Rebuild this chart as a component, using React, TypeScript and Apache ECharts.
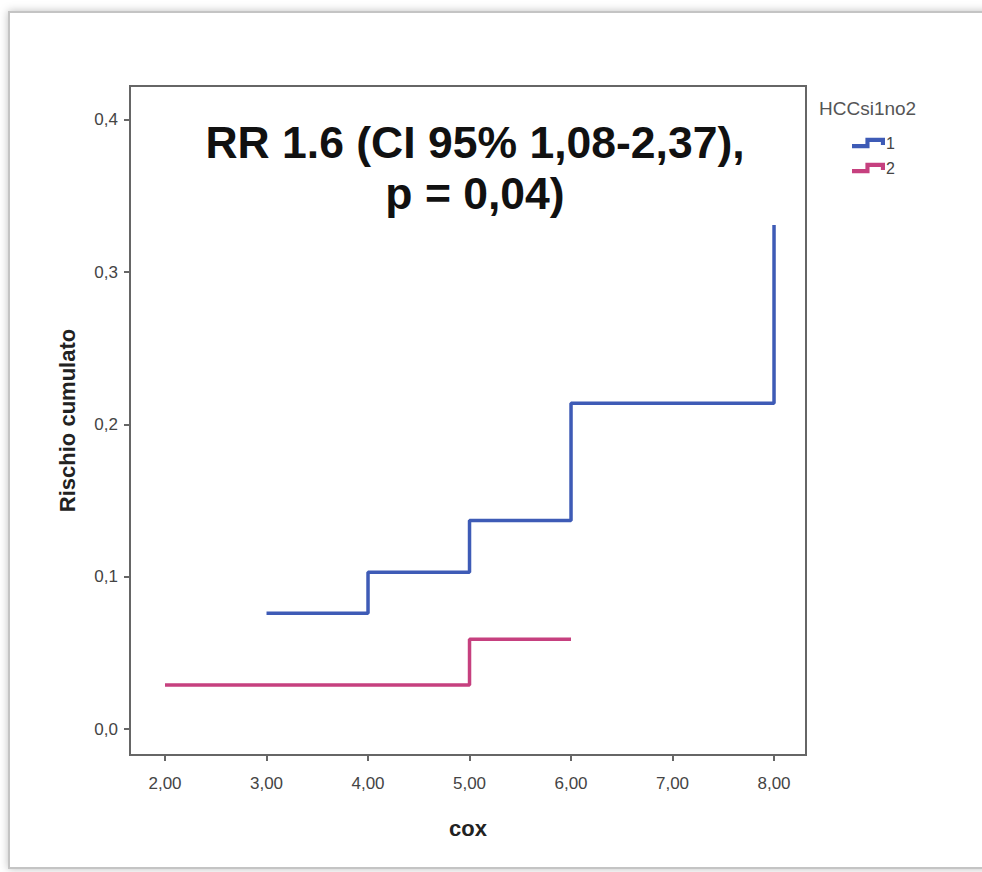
import React, { useEffect, useRef } from "react";
import * as echarts from "echarts";

const blueX = [3, 4, 5, 6, 8];
const blueY = [0.076, 0.103, 0.137, 0.214, 0.331];
const pinkX = [2, 5, 6];
const pinkY = [0.029, 0.059, 0.059];
const xTicks = [2, 3, 4, 5, 6, 7, 8];
const yTicks = [0, 0.1, 0.2, 0.3, 0.4];
const seriesNames = ["1", "2"];
const titleLines = ["RR 1.6 (CI 95% 1,08-2,37),", "p = 0,04)"];
const legendTitle = "HCCsi1no2";
const xName = "cox";
const yName = "Rischio cumulato";

const BLUE = "#3e5bb6";
const PINK = "#c6407f";
const AXIS = "#666";
const FONT = "'Liberation Sans', Arial, sans-serif";
const ICON = "path://M0,6 L13,6 L13,0 L32,0 L32,7 L28,7 L28,4 L17,4 L17,10 L0,10 Z";

export default function App() {
  const ref = useRef<HTMLDivElement>(null);
  useEffect(() => {
    document.body.style.margin = "0";
    const chart = echarts.init(ref.current!, null, { renderer: "svg" });
    const zip = (xs: number[], ys: number[]) => xs.map((x, i) => [x, ys[i]]);
    chart.setOption({
      animation: false,
      backgroundColor: "#fff",
      textStyle: { fontFamily: FONT },
      grid: {
        left: 130,
        top: 86,
        right: 176,
        bottom: 117,
        show: true,
        borderColor: AXIS,
        borderWidth: 2,
        backgroundColor: "transparent",
      },
      xAxis: {
        type: "value",
        min: 1.655,
        max: 8.315,
        name: xName,
        nameLocation: "middle",
        nameGap: 62,
        nameTextStyle: { fontSize: 22, fontWeight: "bold", color: "#222", fontFamily: FONT },
        axisLine: { show: true, onZero: false, lineStyle: { color: AXIS, width: 2 } },
        axisTick: { show: true, length: 6, customValues: xTicks, lineStyle: { color: AXIS, width: 2 } },
        axisLabel: {
          customValues: xTicks,
          margin: 20,
          fontSize: 17,
          color: "#444",
          fontFamily: FONT,
          formatter: (v: number) => v.toFixed(2).replace(".", ","),
        },
        splitLine: { show: false },
      },
      yAxis: {
        type: "value",
        min: -0.017,
        max: 0.4223,
        name: yName,
        nameLocation: "middle",
        nameGap: 52,
        nameRotate: 90,
        nameTextStyle: { fontSize: 22, fontWeight: "bold", color: "#222", fontFamily: FONT },
        axisLine: { show: true, onZero: false, lineStyle: { color: AXIS, width: 2 } },
        axisTick: { show: true, length: 6, customValues: yTicks, lineStyle: { color: AXIS, width: 2 } },
        axisLabel: {
          customValues: yTicks,
          margin: 12,
          fontSize: 17,
          color: "#444",
          fontFamily: FONT,
          formatter: (v: number) => v.toFixed(1).replace(".", ","),
        },
        splitLine: { show: false },
      },
      legend: {
        orient: "vertical",
        left: 852,
        top: 135,
        padding: 0,
        itemWidth: 33,
        itemHeight: 11,
        itemGap: 9,
        icon: ICON,
        textStyle: { fontSize: 16, color: "#444", fontFamily: FONT, padding: [0, 0, 0, -4] },
        data: seriesNames,
      },
      graphic: [
        {
          type: "rect",
          silent: true,
          z: -10,
          shape: { x: 9, y: 12, width: 990, height: 856 },
          style: { fill: "#fff", stroke: "#c4c4c4", lineWidth: 2, shadowBlur: 8, shadowColor: "rgba(0,0,0,0.25)" },
        },
        {
          type: "text",
          x: 475,
          y: 142,
          style: {
            text: titleLines[0],
            font: `bold 44.5px ${FONT}`,
            fill: "#111",
            textAlign: "center",
            textVerticalAlign: "middle",
          },
        },
        {
          type: "text",
          x: 475,
          y: 193,
          style: {
            text: titleLines[1],
            font: `bold 44.5px ${FONT}`,
            fill: "#111",
            textAlign: "center",
            textVerticalAlign: "middle",
          },
        },
        {
          type: "text",
          x: 819,
          y: 108,
          style: {
            text: legendTitle,
            font: `19px ${FONT}`,
            fill: "#555",
            textAlign: "left",
            textVerticalAlign: "middle",
          },
        },
      ],
      series: [
        {
          name: seriesNames[0],
          type: "line",
          step: "end",
          symbol: "none",
          data: zip(blueX, blueY),
          itemStyle: { color: BLUE },
          lineStyle: { color: BLUE, width: 3.5 },
        },
        {
          name: seriesNames[1],
          type: "line",
          step: "end",
          symbol: "none",
          data: zip(pinkX, pinkY),
          itemStyle: { color: PINK },
          lineStyle: { color: PINK, width: 3.5 },
        },
      ],
    });
    return () => chart.dispose();
  }, []);
  return <div ref={ref} style={{ width: 982, height: 872 }} />;
}
